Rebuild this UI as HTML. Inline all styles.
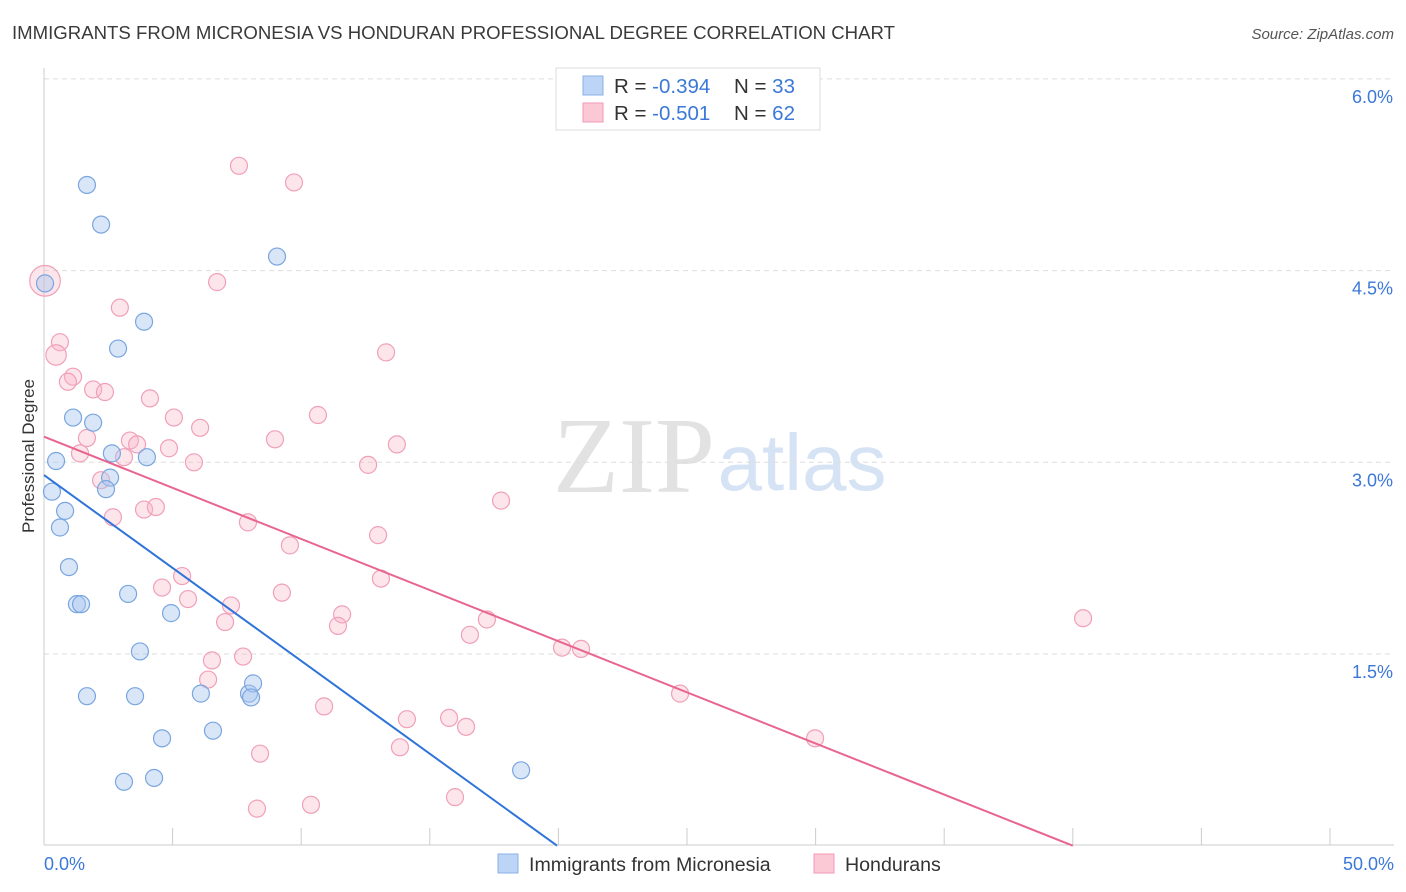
<!DOCTYPE html>
<html><head><meta charset="utf-8"><style>
body{margin:0;background:#fff;font-family:"Liberation Sans",sans-serif;}
#wrap{position:relative;width:1406px;height:892px;overflow:hidden;}
</style></head><body>
<div id="wrap">
<svg id="svg" width="1406" height="892" xmlns="http://www.w3.org/2000/svg">
<text x="12" y="39" font-size="18.6" fill="#3a3a3a">IMMIGRANTS FROM MICRONESIA VS HONDURAN PROFESSIONAL DEGREE CORRELATION CHART</text>
<text x="1394" y="39" font-size="15" fill="#555" font-style="italic" text-anchor="end">Source: ZipAtlas.com</text>
<text x="634" y="492" font-size="108" fill="#e2e2e2" font-family="Liberation Serif,serif" text-anchor="middle">ZIP</text>
<text x="802" y="490" font-size="80" fill="#d5e3f5" text-anchor="middle">atlas</text>
<text transform="translate(34,456) rotate(-90)" font-size="17" fill="#333" text-anchor="middle">Professional Degree</text>
<g id="grid"></g><g id="axes"></g><g id="marks"></g>
<g>
<rect x="556" y="68" width="264" height="62" fill="#fff" stroke="#ddd"/>
<rect x="583" y="76" width="20" height="19" fill="#bcd4f5" stroke="#8ab2e8"/>
<rect x="583" y="103" width="20" height="19" fill="#fbc8d6" stroke="#f09ab4"/>
<text x="614" y="93" font-size="20.5" fill="#333">R = <tspan fill="#3b78d8">-0.394</tspan></text>
<text x="734" y="93" font-size="20.5" fill="#333">N = <tspan fill="#3b78d8">33</tspan></text>
<text x="614" y="120" font-size="20.5" fill="#333">R = <tspan fill="#3b78d8"> -0.501</tspan></text>
<text x="734" y="120" font-size="20.5" fill="#333">N = <tspan fill="#3b78d8">62</tspan></text>
</g>
<g>
<rect x="498" y="854" width="20" height="19" fill="#bcd4f5" stroke="#8ab2e8"/>
<text x="529" y="871" font-size="19.6" fill="#333">Immigrants from Micronesia</text>
<rect x="814" y="854" width="20" height="19" fill="#fbc8d6" stroke="#f09ab4"/>
<text x="845" y="871" font-size="19.6" fill="#333">Hondurans</text>
</g>
</svg>
</div>
<script>
const blueX=[1.67,2.22,9.06,0.04,3.89,2.88,1.13,1.91,0.47,2.64,4.00,0.31,2.57,2.41,0.82,0.62,0.97,3.27,1.28,1.44,4.94,3.73,1.67,3.54,6.10,7.97,8.13,8.05,6.57,4.59,18.55,4.28,3.11];
const blueY=[5.17,4.86,4.61,4.40,4.10,3.89,3.35,3.31,3.01,3.07,3.04,2.77,2.88,2.79,2.62,2.49,2.18,1.97,1.89,1.89,1.82,1.52,1.17,1.17,1.19,1.19,1.27,1.16,0.90,0.84,0.59,0.53,0.50];
const pinkX=[0.04,7.58,9.72,6.73,2.95,0.62,0.47,13.30,1.13,0.93,1.91,2.37,4.12,5.05,10.65,6.07,1.67,3.34,3.62,8.98,13.72,1.40,4.86,3.11,5.83,12.60,2.22,17.77,2.68,3.89,4.35,7.93,12.99,9.56,5.37,4.59,13.10,9.25,5.60,7.27,11.59,7.04,11.43,17.22,40.40,16.56,20.14,20.88,6.53,7.74,6.38,24.73,10.89,14.11,15.75,16.41,13.84,8.40,29.98,15.98,8.28,10.38];
const pinkY=[4.42,5.32,5.19,4.41,4.21,3.94,3.84,3.86,3.67,3.63,3.57,3.55,3.50,3.35,3.37,3.27,3.19,3.17,3.14,3.18,3.14,3.07,3.11,3.04,3.00,2.98,2.86,2.70,2.57,2.63,2.65,2.53,2.43,2.35,2.11,2.02,2.09,1.98,1.93,1.88,1.81,1.75,1.72,1.77,1.78,1.65,1.55,1.54,1.45,1.48,1.30,1.19,1.09,0.99,1.00,0.93,0.77,0.72,0.84,0.38,0.29,0.32];
const pinkR=[18,10,10,10,10,10,12,10,10,10,10,10,10,10,10,10,10,10,10,10,10,10,10,10,10,10,10,10,10,10,10,10,10,10,10,10,10,10,10,10,10,10,10,10,10,10,10,10,10,10,10,10,10,10,10,10,10,10,10,10,10,10];
const blueTrend=[2.90,0];const blueTrendX=[0,19.95];
const pinkTrend=[3.20,0];const pinkTrendX=[0,40.0];
const yTicks=[1.5,3.0,4.5,6.0];const yTickLabels=["1.5%","3.0%","4.5%","6.0%"];
const xTicks=[0,5,10,15,20,25,30,35,40,45,50];
const xs=v=>44+v*25.72, ys=v=>845.7-v*127.8;
const NS="http://www.w3.org/2000/svg";
function mk(t,a,p){const e=document.createElementNS(NS,t);for(const k in a)e.setAttribute(k,a[k]);p.appendChild(e);return e;}
const grid=document.getElementById('grid'),axes=document.getElementById('axes'),marks=document.getElementById('marks');
yTicks.forEach((v,i)=>{
 const l=mk('line',{x1:44,x2:1394,y1:ys(v),y2:ys(v),stroke:'#ddd','stroke-dasharray':'5,4'},grid);
 
 
 const t=mk('text',{x:1393,y:ys(v)+24,'font-size':18,fill:'#3b78d8','text-anchor':'end'},axes);
 t.textContent=yTickLabels[i];
 
 
});
const ax=mk('line',{x1:44,x2:44,y1:68,y2:845,stroke:'#ccc'},axes);


const bx=mk('line',{x1:44,x2:1394,y1:845,y2:845,stroke:'#ccc'},axes);


xTicks.forEach(v=>{
 const l=mk('line',{x1:xs(v),x2:xs(v),y1:828,y2:845,stroke:'#ccc'},axes);
 
 
});
const xl0=mk('text',{x:44,y:870,'font-size':18,fill:'#3b78d8'},axes);xl0.textContent='0.0%';


const xl1=mk('text',{x:1394,y:870,'font-size':18,fill:'#3b78d8','text-anchor':'end'},axes);xl1.textContent='50.0%';


pinkX.forEach((v,i)=>{
 const c=mk('circle',{cx:xs(v),cy:ys(pinkY[i]),r:pinkR[i]*0.85,fill:'rgba(248,180,200,0.35)',stroke:'#f0a0b8','stroke-width':1.2},marks);
 
 
});
blueX.forEach((v,i)=>{
 const c=mk('circle',{cx:xs(v),cy:ys(blueY[i]),r:8.5,fill:'rgba(170,200,240,0.45)',stroke:'#7aa6e0','stroke-width':1.2},marks);
 
 
});
const bl=mk('line',{x1:xs(blueTrendX[0]),y1:ys(blueTrend[0]),x2:xs(blueTrendX[1]),y2:ys(blueTrend[1]),stroke:'#2f74d8','stroke-width':2},marks);


const pl=mk('line',{x1:xs(pinkTrendX[0]),y1:ys(pinkTrend[0]),x2:xs(pinkTrendX[1]),y2:ys(pinkTrend[1]),stroke:'#e8658f','stroke-width':2},marks);


</script>
</body></html>
